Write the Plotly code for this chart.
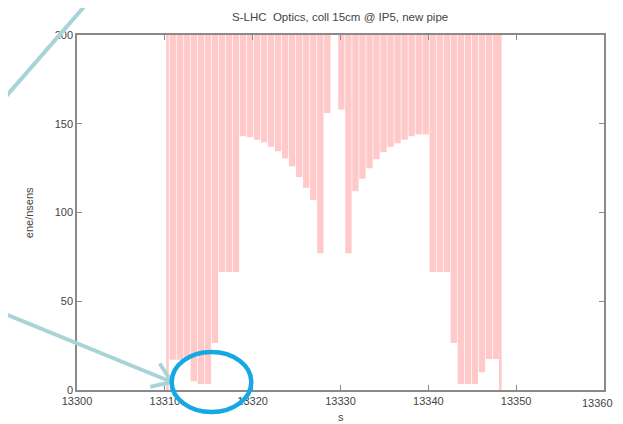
import plotly.graph_objects as go

# ---- data ----
s_left = [13310.9, 13311.7, 13312.5, 13313.3, 13314.1, 13314.9, 13315.7, 13316.5,
          13317.3, 13318.1, 13318.9, 13319.7, 13320.5, 13321.3, 13322.1, 13322.9,
          13323.7, 13324.5, 13325.3, 13326.1, 13326.9, 13327.7, 13328.5]
ap_left = [17, 17, 17, 5, 3.4, 3.4, 26.5, 66.5,
           66.5, 66.5, 143, 142.5, 141, 139.5, 137, 134.5,
           130.5, 126, 120, 114, 107, 77, 156]
s_right = [13330.1, 13330.9, 13331.7, 13332.5, 13333.3, 13334.1, 13334.9, 13335.7,
           13336.5, 13337.3, 13338.1, 13338.9, 13339.7, 13340.5, 13341.3, 13342.1,
           13342.9, 13343.7, 13344.5, 13345.3, 13346.1, 13346.9, 13347.7]
ap_right = [158, 77, 112, 119, 125, 130, 134, 137,
            139, 141, 143, 144, 144, 66.5, 66.5, 66.5,
            26.5, 3.4, 3.4, 3.4, 10, 17.5, 17.5]
s_edge = [13310.3, 13348.2]
ap_edge = [0, 0]
y_top = 200
x_ticks = [13300, 13310, 13320, 13330, 13340, 13350, 13360]
y_ticks = [0, 50, 100, 150, 200]
title_text = "S-LHC  Optics, coll 15cm @ IP5, new pipe"
x_label = "s"
y_label = "ene/nsens"

PINK = "#ffc9c9"
OFF = 8                      # page body margin in the browser
W, H = 623 - 2 * OFF, 424 - OFF
L, R, T, B = 77 - OFF, 606 - OFF, 35 - OFF, 390 - OFF  # plot area in figure pixels


def px(x):  # screen pixel -> paper x
    return (x - OFF - L) / (R - L)


def py(y):  # screen pixel -> paper y
    return (B - (y - OFF)) / (B - T)


fig = go.Figure()
s_all = s_left + s_right
ap_all = ap_left + ap_right
fig.add_trace(go.Bar(x=s_all, base=ap_all, y=[y_top - a for a in ap_all],
                     width=0.72, marker=dict(color=PINK, line=dict(width=0)),
                     hoverinfo="skip", showlegend=False))
fig.add_trace(go.Bar(x=s_edge, base=ap_edge, y=[y_top - a for a in ap_edge],
                     width=0.3, marker=dict(color=PINK, line=dict(width=0)),
                     hoverinfo="skip", showlegend=False))

TICKFONT = dict(family="Liberation Sans, Arial", size=11, color="#444")
axis_common = dict(showgrid=False, zeroline=False, showline=True, linecolor="#8a8a8a",
                   linewidth=1.5, mirror="allticks", ticks="inside", ticklen=5,
                   tickcolor="#8a8a8a", tickfont=TICKFONT)

# last x tick label sits at the very edge of the page: drawn as an annotation below
x_ticktext = [str(v) for v in x_ticks[:-1]] + [""]

fig.update_layout(
    width=W, height=H, barmode="overlay",
    margin=dict(l=L, r=W - R, t=T, b=H - B),
    paper_bgcolor="white", plot_bgcolor="white",
    xaxis=dict(range=[13300, 13360], tickvals=x_ticks, ticktext=x_ticktext, **axis_common),
    yaxis=dict(range=[0, 200], tickvals=y_ticks, ticktext=[str(v) for v in y_ticks], **axis_common),
    showlegend=False,
)

fig.add_annotation(x=1, y=py(403), xref="paper", yref="paper", text=str(x_ticks[-1]),
                   showarrow=False, font=TICKFONT, xanchor="center", yanchor="middle",
                   xshift=-7)

font_title = dict(family="Liberation Sans, Arial", size=11.5, color="#444")
fig.add_annotation(x=px(341), y=py(17), xref="paper", yref="paper", text=title_text,
                   showarrow=False, font=font_title, xanchor="center", yanchor="middle")
fig.add_annotation(x=px(342), y=py(417), xref="paper", yref="paper", text=x_label,
                   showarrow=False, font=TICKFONT, xanchor="center", yanchor="middle")
fig.add_annotation(x=px(29), y=py(213), xref="paper", yref="paper", text=y_label,
                   showarrow=False, font=dict(family="Liberation Sans, Arial", size=11, color="#444"),
                   textangle=-90, xanchor="center", yanchor="middle")

# ---- slide overlay: arrows and circle ----
ARROW = "#a9d4d7"
CIRC = "#16a8e2"


def seg(x0, y0, x1, y1, color, width):
    fig.add_shape(type="line", xref="paper", yref="paper",
                  x0=px(x0), y0=py(y0), x1=px(x1), y1=py(y1),
                  line=dict(color=color, width=width))


seg(90, 0, 0, 103, ARROW, 4)
seg(0, 312, 172, 382, ARROW, 4)
seg(172, 382, 160, 363.5, ARROW, 4)
seg(172, 382, 150.6, 386.9, ARROW, 4)

fig.add_shape(type="circle", xref="paper", yref="paper",
              x0=px(172), x1=px(252), y0=py(352), y1=py(412),
              line=dict(color=CIRC, width=4.5))

fig.write_html("out.html")
